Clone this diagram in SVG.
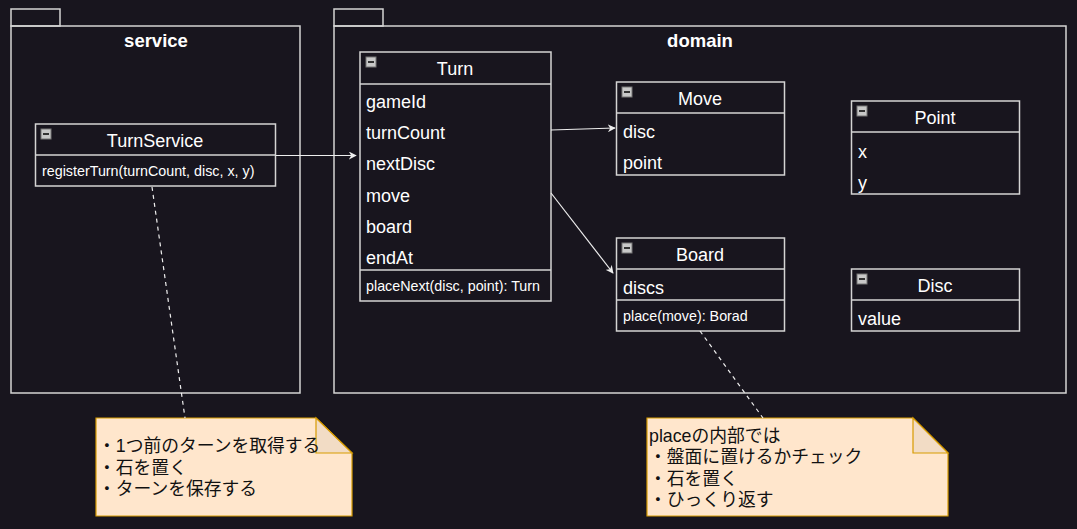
<svg xmlns="http://www.w3.org/2000/svg" width="1077" height="529" viewBox="0 0 1077 529">
<style>
.b{fill:none;stroke:#d4d4d4;stroke-width:1.5}
.t{font-family:"Liberation Sans",Arial,sans-serif;fill:#ffffff}
.h{font-size:18px;text-anchor:middle}
.a{font-size:18px}
.m{font-size:14.3px}
.pk{font-size:18.5px;font-weight:bold;text-anchor:middle}
.c{stroke:#eeeeee;stroke-width:1.2;fill:none}
.d{stroke:#eeeeee;stroke-width:1.2;fill:none;stroke-dasharray:4 4}
.n{fill:#ffe6cc;stroke:#d79b00;stroke-width:1.2}
.nf{fill:#f2dcc5;stroke:#d79b00;stroke-width:1.2}
.nt{font-family:"Liberation Sans","Noto Sans CJK JP",sans-serif;font-size:17.8px;fill:#111111}
</style>
<defs>
<g id="mi"><rect x="0" y="0" width="10" height="10" fill="#c8c8c8" stroke="#777" stroke-width="1"/><line x1="2" y1="5" x2="8" y2="5" stroke="#333" stroke-width="2"/></g>
<marker id="ar" viewBox="0 0 10 10" refX="9" refY="5" markerWidth="8" markerHeight="8" orient="auto" markerUnits="userSpaceOnUse"><path d="M0,0 L10,5 L0,10 L3,5 Z" fill="#eeeeee"/></marker>
</defs>
<rect x="0" y="0" width="1077" height="529" fill="#18151e"/>
<g id="service">
<rect class="b" x="11" y="9" width="49" height="17"/>
<rect class="b" x="11" y="26" width="289" height="367"/>
<text class="t pk" x="156" y="47">service</text>
</g>
<g id="domain">
<rect class="b" x="334" y="9" width="49" height="17"/>
<rect class="b" x="334" y="26" width="732" height="367"/>
<text class="t pk" x="700" y="47">domain</text>
</g>
<g id="TurnService">
<rect class="b" x="35.5" y="124" width="240" height="62"/>
<line class="b" x1="35.5" y1="155" x2="275.5" y2="155"/>
<use href="#mi" x="41" y="129"/>
<text class="t h" x="155" y="147">TurnService</text>
<text class="t m" x="42" y="176">registerTurn(turnCount, disc, x, y)</text>
</g>
<g id="Turn">
<rect class="b" x="360" y="52" width="191" height="249"/>
<line class="b" x1="360" y1="84" x2="551" y2="84"/>
<line class="b" x1="360" y1="270" x2="551" y2="270"/>
<use href="#mi" x="366" y="57"/>
<text class="t h" x="455" y="75">Turn</text>
<text class="t a" x="366" y="108">gameId</text>
<text class="t a" x="366" y="139">turnCount</text>
<text class="t a" x="366" y="170">nextDisc</text>
<text class="t a" x="366" y="202">move</text>
<text class="t a" x="366" y="233">board</text>
<text class="t a" x="366" y="264">endAt</text>
<text class="t m" x="366" y="291">placeNext(disc, point): Turn</text>
</g>
<g id="Move">
<rect class="b" x="616.5" y="82" width="168" height="93"/>
<line class="b" x1="616.5" y1="113" x2="784.5" y2="113"/>
<use href="#mi" x="622" y="87"/>
<text class="t h" x="700" y="105">Move</text>
<text class="t a" x="623" y="138">disc</text>
<text class="t a" x="623" y="169">point</text>
</g>
<g id="Point">
<rect class="b" x="851.5" y="101" width="168" height="93"/>
<line class="b" x1="851.5" y1="132" x2="1019.5" y2="132"/>
<use href="#mi" x="857" y="106"/>
<text class="t h" x="935" y="124">Point</text>
<text class="t a" x="858" y="158">x</text>
<text class="t a" x="858" y="189">y</text>
</g>
<g id="Board">
<rect class="b" x="616.5" y="238" width="168" height="93"/>
<line class="b" x1="616.5" y1="269" x2="784.5" y2="269"/>
<line class="b" x1="616.5" y1="300" x2="784.5" y2="300"/>
<use href="#mi" x="622" y="243"/>
<text class="t h" x="700" y="261">Board</text>
<text class="t a" x="623" y="294">discs</text>
<text class="t m" x="623" y="321">place(move): Borad</text>
</g>
<g id="Disc">
<rect class="b" x="851.5" y="269" width="168" height="62"/>
<line class="b" x1="851.5" y1="300" x2="1019.5" y2="300"/>
<use href="#mi" x="857" y="274"/>
<text class="t h" x="935" y="292">Disc</text>
<text class="t a" x="858" y="325">value</text>
</g>
<g id="note1">
<path class="n" d="M96,418 L316,418 L352,453 L352,516 L96,516 Z"/>
<path class="nf" d="M316,418 L316,453 L352,453 Z"/>
<text class="nt" x="98" y="452">・1つ前のターンを取得する</text>
<text class="nt" x="98" y="474">・石を置く</text>
<text class="nt" x="98" y="495">・ターンを保存する</text>
</g>
<g id="note2">
<path class="n" d="M647,418 L913,418 L948,453 L948,516 L647,516 Z"/>
<path class="nf" d="M913,418 L913,453 L948,453 Z"/>
<text class="nt" x="649" y="442">placeの内部では</text>
<text class="nt" x="649" y="463">・盤面に置けるかチェック</text>
<text class="nt" x="649" y="485">・石を置く</text>
<text class="nt" x="649" y="506">・ひっくり返す</text>
</g>
<g id="connectors">
<line class="c" x1="275.5" y1="155.5" x2="356" y2="155.5" marker-end="url(#ar)"/>
<line class="c" x1="551" y1="130" x2="615" y2="128" marker-end="url(#ar)"/>
<line class="c" x1="551" y1="193" x2="613" y2="273" marker-end="url(#ar)"/>
<line class="d" x1="152" y1="187" x2="185" y2="418"/>
<line class="d" x1="700" y1="331" x2="763" y2="418"/>
</g>
</svg>
